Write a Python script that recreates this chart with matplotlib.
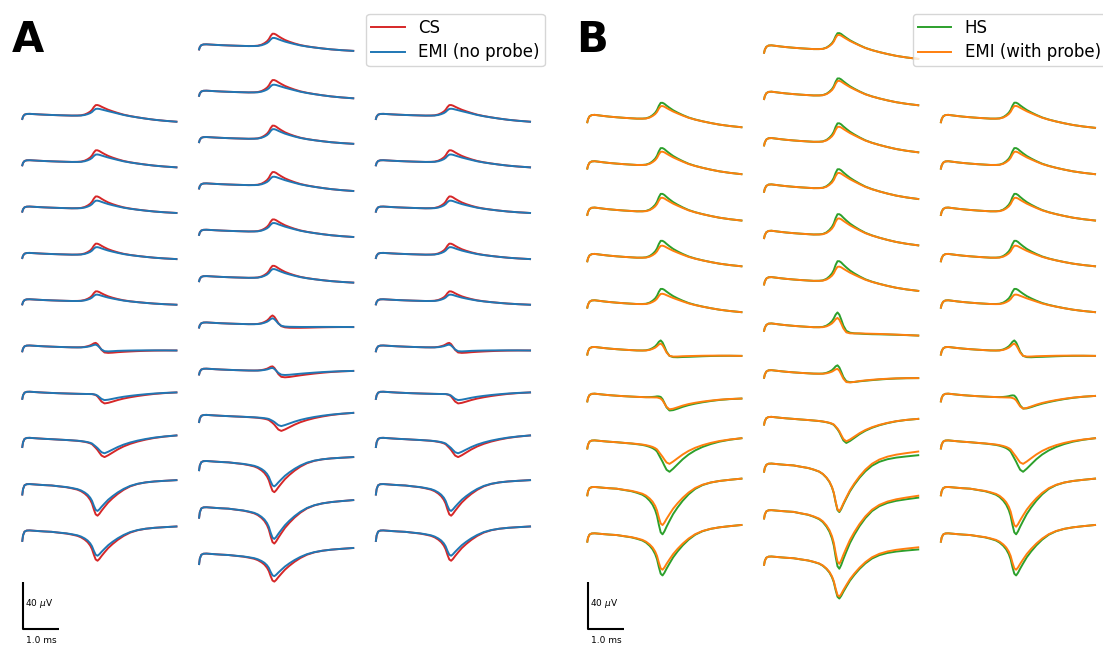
"""
Spike waveforms on a 32-channel probe: CS vs EMI without probe (A),
HS vs EMI with probe (B). Traces are built from a few templates read off
the original figure, scaled per channel.
"""
import matplotlib
matplotlib.use("Agg")
import matplotlib.pyplot as plt
import numpy as np

# time grid (ms) shared by every trace
T = np.array([0.0, 0.02, 0.06, 0.12, 0.2, 0.3, 0.45, 0.6, 0.8, 1.0, 1.2, 1.35,
              1.5, 1.6, 1.7, 1.78, 1.85, 1.9, 1.95, 2.0, 2.05, 2.1, 2.16, 2.24,
              2.34, 2.46, 2.6, 2.76, 2.94, 3.14, 3.36, 3.6, 3.88, 4.2])

# template shapes (normalised to 1 at the extremum)
TICK = np.array([1, 0.4, 0.05] + [0] * 31)
HUMP = np.array([0, 0.3, 0.7, 0.95, 1.0, 0.9, 0.75, 0.62, 0.48, 0.36, 0.26, 0.19,
                 0.13, 0.09, 0.06, 0.04, 0.02, 0.01] + [0] * 16)
PEAK = np.array([0] * 12 + [0.02, 0.05, 0.13, 0.25, 0.4, 0.57, 0.83, 1.0, 0.97,
                            0.87, 0.72, 0.55, 0.38, 0.25, 0.15, 0.08, 0.04, 0.02,
                            0.01, 0, 0, 0])
TROUGH = np.array([0] * 9 + [0.02, 0.04, 0.07, 0.11, 0.16, 0.24, 0.33, 0.45, 0.58,
                             0.78, 0.95, 1.0, 0.94, 0.84, 0.72, 0.58, 0.45, 0.32,
                             0.2, 0.1, 0.04, 0.01, 0, 0, 0])
DIP = np.array([0] * 18 + [0.04, 0.1, 0.25, 0.5, 0.8, 1.0, 0.95, 0.83, 0.68, 0.54,
                           0.42, 0.31, 0.21, 0.12, 0.05, 0])
TAIL_UP = np.array([0] * 14 + [-0.02, -0.05, -0.08, -0.11, -0.15, -0.2, -0.26,
                               -0.33, -0.39, -0.44, -0.45, -0.4, -0.28, -0.1, 0.08,
                               0.27, 0.47, 0.66, 0.84, 1.0])
TAIL_DOWN = np.array([0] * 20 + [0.02, 0.04, 0.07, 0.11, 0.17, 0.24, 0.32, 0.41,
                                 0.5, 0.6, 0.7, 0.8, 0.9, 1.0])

# ---- panel A (µV, one list per probe column, top row first)
CS_PEAK = [[8.2, 9.3, 9.6, 8.9, 7.9, 4.4, 0, 0, 0, 0],
           [10.0, 9.8, 10.6, 10.4, 9.6, 9.7, 7.9, 4.6, 0, 0, 0, 0],
           [8.2, 9.3, 9.6, 8.9, 7.9, 4.4, 0, 0, 0, 0]]
CS_DIP = [[0, 0, 0, 0, 0, -7.4, -8.0, -10.5, 0, 0],
          [0, 0, 0, 0, 0, 0, -6.6, -7.5, -9.0, 0, 0, 0],
          [0, 0, 0, 0, 0, -7.4, -8.0, -10.5, 0, 0]]
CS_TROUGH = [[0, 0, 0, 0, 0, 0, 0, -5.5, -24.4, -23.3],
             [0, 0, 0, 0, 0, 0, 0, 0, -4.0, -24.1, -28.4, -21.4],
             [0, 0, 0, 0, 0, 0, 0, -5.5, -24.4, -23.3]]
EMI_NP_PEAK = [[5.0, 5.7, 6.0, 5.9, 5.1, 2.7, 0, 0, 0, 0],
               [6.4, 5.8, 7.6, 6.4, 6.5, 6.9, 5.4, 3.0, 0, 0, 0, 0],
               [5.0, 5.7, 6.0, 5.9, 5.1, 2.7, 0, 0, 0, 0]]
EMI_NP_DIP = [[0, 0, 0, 0, 0, -5.4, -5.2, -8.0, 0, 0],
              [0, 0, 0, 0, 0, 0, -4.9, -4.8, -6.0, 0, 0, 0],
              [0, 0, 0, 0, 0, -5.4, -5.2, -8.0, 0, 0]]
EMI_NP_TROUGH = [[0, 0, 0, 0, 0, 0, 0, -4.5, -20.4, -19.1],
                 [0, 0, 0, 0, 0, 0, 0, 0, -2.5, -19.2, -24.5, -16.8],
                 [0, 0, 0, 0, 0, 0, 0, -4.5, -20.4, -19.1]]
A_END = [[-4.8, -4.2, -3.6, -3.4, -2.8, -2.3, 1.4, 4.2, 5.6, 5.6],
         [-3.7, -4.6, -3.9, -4.6, -4.3, -3.7, -2.1, 0.0, 3.7, 5.5, 8.3, 7.0],
         [-4.8, -4.2, -3.6, -3.4, -2.8, -2.3, 1.4, 4.2, 5.6, 5.6]]
A_START = [[-2.5, -2.5, -2.5, -2.5, -2.5, -3.0, -4.0, -5.5, -6.5, -6.5],
           [-2.5, -2.5, -2.5, -2.5, -2.5, -2.5, -2.5, -3.0, -4.0, -5.5, -6.5, -6.5],
           [-2.5, -2.5, -2.5, -2.5, -2.5, -3.0, -4.0, -5.5, -6.5, -6.5]]
A_HUMP = [[1.8, 1.8, 1.8, 1.8, 1.8, 1.9, 2.0, 2.2, 2.3, 2.3],
          [1.8, 1.8, 1.8, 1.8, 1.8, 1.8, 1.8, 1.9, 2.0, 2.2, 2.3, 2.3],
          [1.8, 1.8, 1.8, 1.8, 1.8, 1.9, 2.0, 2.2, 2.3, 2.3]]

# ---- panel B
HS_PEAK = [[12.7, 13.5, 14.0, 13.6, 12.2, 9.4, 1.6, 0, 0, 0],
           [12.6, 13.5, 14.6, 14.9, 16.1, 15.7, 13.1, 8.2, 0, 0, 0, 0],
           [12.7, 13.5, 14.0, 13.6, 12.2, 9.4, 2.8, 0, 0, 0]]
HS_DIP = [[0, 0, 0, 0, 0, -10.8, -12.1, -16.0, 0, 0],
          [0, 0, 0, 0, 0, 0, -12.3, -11.6, -14.5, 0, 0, 0],
          [0, 0, 0, 0, 0, -10.8, -10.9, -16.0, 0, 0]]
HS_TROUGH = [[0, 0, 0, 0, 0, 0, 0, -11.0, -37.2, -32.8],
             [0, 0, 0, 0, 0, 0, 0, 0, -6.0, -38.0, -46.7, -32.7],
             [0, 0, 0, 0, 0, 0, 0, -11.0, -37.2, -32.8]]
HS_END = [[-6.5, -7.0, -7.0, -6.5, -6.1, -3.9, -0.8, 4.8, 9.8, 9.8],
          [-7.5, -7.5, -8.1, -8.4, -8.4, -7.7, -6.3, -3.1, 1.6, 10.0, 13.3, 8.7],
          [-7.0, -7.0, -7.0, -6.5, -6.1, -3.9, 1.4, 4.8, 9.8, 9.8]]
EMI_WP_PEAK = [[9.9, 10.4, 10.6, 9.4, 8.0, 6.6, 0, 0, 0, 0],
               [11.0, 11.4, 11.6, 11.7, 12.4, 11.0, 8.4, 5.1, 0, 0, 0, 0],
               [9.9, 10.4, 10.6, 9.4, 7.3, 6.6, 0, 0, 0, 0]]
EMI_WP_DIP = [[0, 0, 0, 0, 0, -9.2, -10.2, -11.5, 0, 0],
              [0, 0, 0, 0, 0, 0, -11.0, -10.6, -13.5, 0, 0, 0],
              [0, 0, 0, 0, 0, -9.2, -9.4, -11.5, 0, 0]]
EMI_WP_TROUGH = [[0, 0, 0, 0, 0, 0, 0, -8.0, -29.4, -28.0],
                 [0, 0, 0, 0, 0, 0, 0, 0, -5.5, -37.3, -42.6, -31.1],
                 [0, 0, 0, 0, 0, 0, 0, -8.0, -30.8, -28.0]]
EMI_WP_END = [[-6.5, -7.0, -7.0, -6.5, -6.1, -3.9, -0.8, 4.8, 9.8, 9.8],
              [-7.5, -7.5, -8.1, -8.4, -8.4, -7.7, -6.3, -3.1, 1.6, 13.1, 14.9, 10.5],
              [-7.0, -7.0, -7.0, -6.5, -6.1, -3.9, 1.4, 4.8, 9.8, 9.8]]
B_START = [[-2.3, -2.3, -2.3, -2.3, -2.3, -2.8, -3.2, -3.8, -4.2, -4.2],
           [-2.3, -2.3, -2.3, -2.3, -2.3, -2.3, -2.3, -2.8, -3.2, -3.8, -4.2, -4.2],
           [-2.3, -2.3, -2.3, -2.3, -2.3, -2.8, -3.2, -3.8, -4.2, -4.2]]
B_HUMP = [[3.9, 3.9, 3.9, 3.9, 3.9, 3.6, 3.3, 3.0, 2.8, 2.8],
          [3.9, 3.9, 3.9, 3.9, 3.9, 3.9, 3.9, 3.6, 3.3, 3.0, 2.8, 2.8],
          [3.9, 3.9, 3.9, 3.9, 3.9, 3.6, 3.3, 3.0, 2.8, 2.8]]

# layout (pixels of the 1103x645 figure) and scale
W, H = 1103, 645
PX_MS, PX_UV = 36.7, 1.19
ROW_STEP, COL_STEP = 46.35, 176.8


def trace(start, hump, peak, dip, trough, end):
    tail = TAIL_UP if end < 0 else TAIL_DOWN
    return (start * TICK + hump * HUMP + peak * PEAK + dip * DIP
            + trough * TROUGH + end * tail)


panels = [
    ("A", 22.3, 116.0, A_START, A_HUMP, [
        ("CS", "tab:red", CS_PEAK, CS_DIP, CS_TROUGH, A_END),
        ("EMI (no probe)", "tab:blue", EMI_NP_PEAK, EMI_NP_DIP, EMI_NP_TROUGH, A_END)]),
    ("B", 587.3, 119.5, B_START, B_HUMP, [
        ("HS", "tab:green", HS_PEAK, HS_DIP, HS_TROUGH, HS_END),
        ("EMI (with probe)", "tab:orange", EMI_WP_PEAK, EMI_WP_DIP, EMI_WP_TROUGH, EMI_WP_END)]),
]

fig = plt.figure(figsize=(W / 100, H / 100), dpi=100)
ax = fig.add_axes([0, 0, 1, 1])
ax.set_xlim(0, W / PX_MS)
ax.set_ylim(-H / PX_UV, 0)
ax.axis("off")

legends = []
for name, x0, row0, start, hump, series in panels:
    handles = []
    for label, color, pk, dp, tr, en in series:
        for c in range(3):
            top = row0 - (1.5 * ROW_STEP if c == 1 else 0)
            xs = (x0 + c * COL_STEP) / PX_MS + T
            for r in range(len(pk[c])):
                base = -(top + r * ROW_STEP) / PX_UV
                y = trace(start[c][r], hump[c][r], pk[c][r], dp[c][r], tr[c][r], en[c][r])
                ln, = ax.plot(xs, base + y, color=color, lw=1.4)
        ln.set_label(label)
        handles.append(ln)
    legends.append(handles)

    # scale bar: 40 µV, 1 ms
    sx, sy = (x0 + 0.4) / PX_MS, -629.3 / PX_UV
    ax.plot([sx, sx, sx + 1.0], [sy + 40, sy, sy], color="black", lw=1.5,
            solid_capstyle="butt")
    ax.text(sx + 2.5 / PX_MS, sy + 22, "40 $\\mu$V", fontsize=6.5, ha="left", va="center")
    ax.text(sx + 0.5, sy - 11 / PX_UV, "1.0 ms", fontsize=6.5, ha="center", va="center")
    fig.text((x0 - 11) / W, 1 - 52 / H, name, fontsize=30, fontweight="bold",
             ha="left", va="baseline")

legA = ax.legend(handles=legends[0], loc="upper right", fontsize=12,
                 bbox_to_anchor=(544.5 / W, 1 - 14 / H), bbox_transform=fig.transFigure,
                 borderaxespad=0, borderpad=0.3, labelspacing=0.38)
ax.add_artist(legA)
ax.legend(handles=legends[1], loc="upper left", fontsize=12,
          bbox_to_anchor=(913 / W, 1 - 14 / H), bbox_transform=fig.transFigure,
          borderaxespad=0, borderpad=0.3, labelspacing=0.38)

fig.savefig("out.png", dpi=100)
